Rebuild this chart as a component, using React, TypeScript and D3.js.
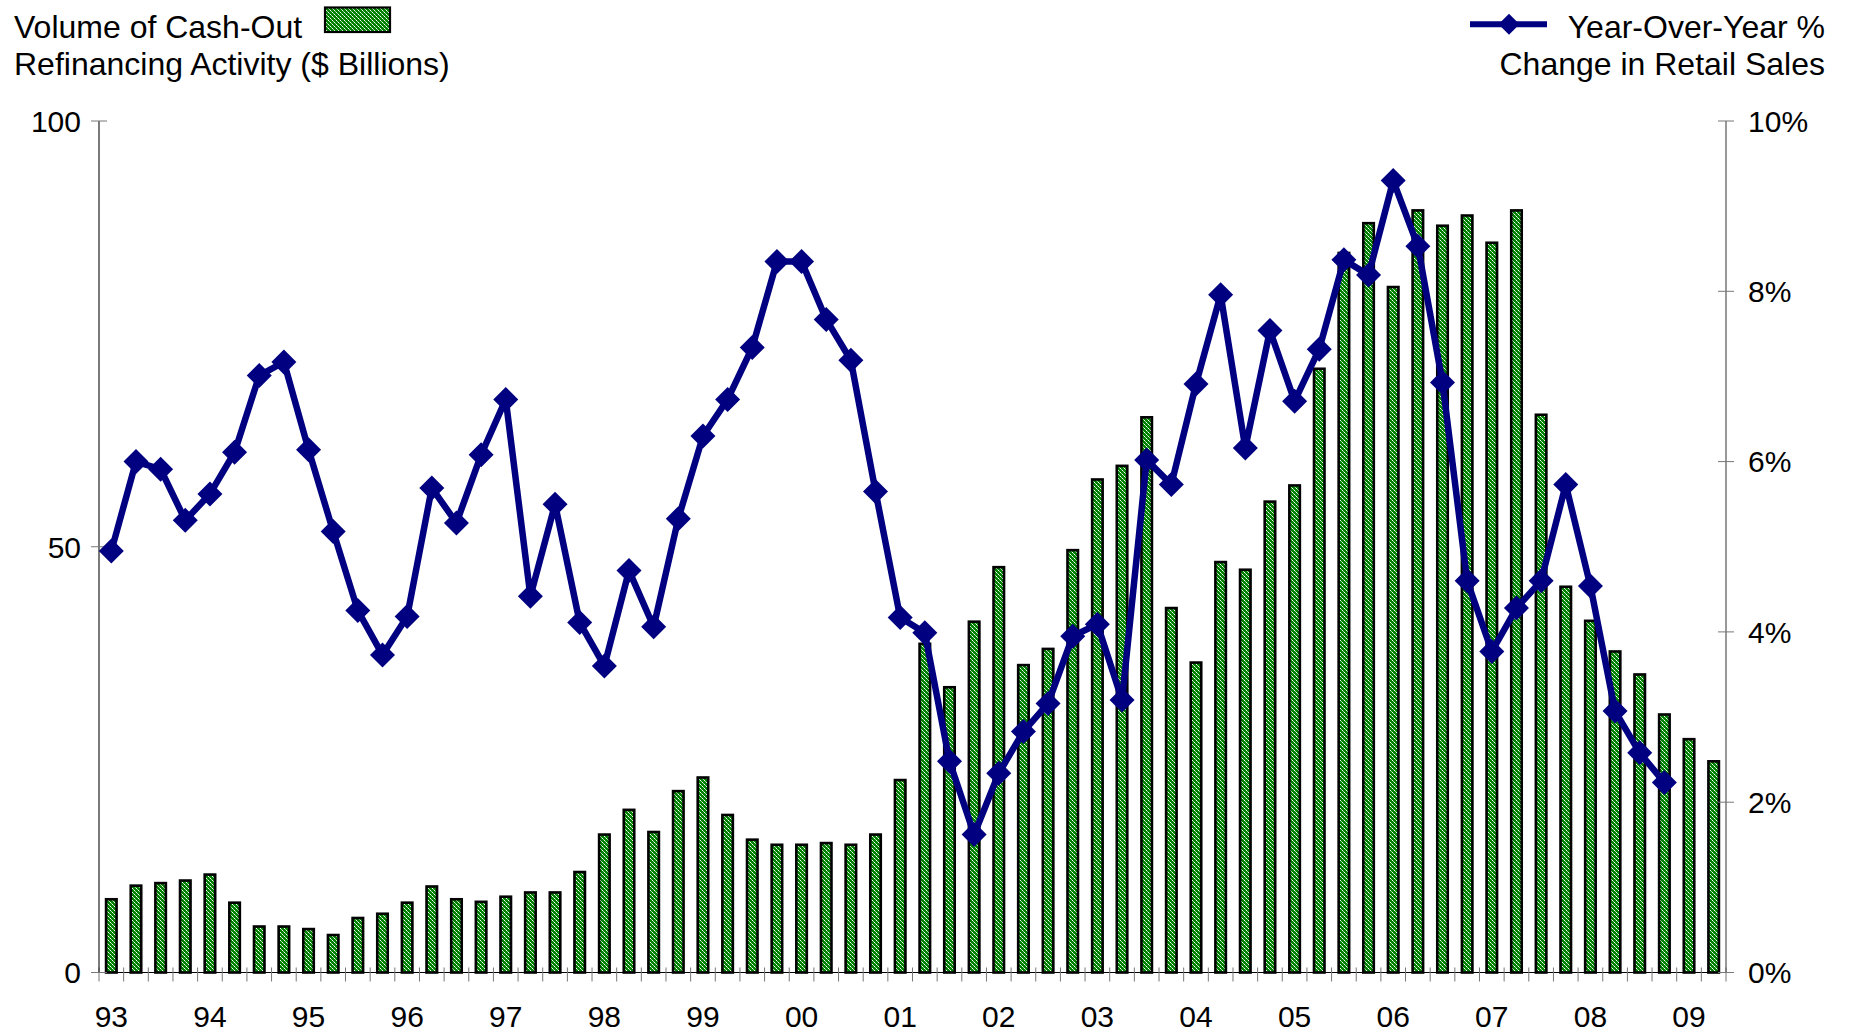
import React from 'react';
import * as d3 from 'd3';

// Quarterly categories 93Q1 .. 09Q2
const years = ['93', '94', '95', '96', '97', '98', '99', '00', '01', '02', '03', '04', '05', '06', '07', '08', '09'];
const quarterNames = ['Q1', 'Q2', 'Q3', 'Q4'];
const quarters = years.flatMap((y) => quarterNames.map((q) => y + q)).slice(0, 66);

// Volume of cash-out refinancing ($ billions), one per quarter
const cashOut = [
  8.6, 10.2, 10.5, 10.8, 11.5, 8.2, 5.4, 5.4,
  5.1, 4.4, 6.4, 6.9, 8.2, 10.1, 8.6, 8.3,
  8.9, 9.4, 9.4, 11.8, 16.2, 19.1, 16.5, 21.3,
  22.9, 18.5, 15.6, 15.0, 15.0, 15.2, 15.0, 16.2,
  22.6, 38.6, 33.5, 41.2, 47.6, 36.1, 38.0, 49.6,
  57.9, 59.5, 65.2, 42.8, 36.4, 48.2, 47.3, 55.3,
  57.2, 70.9, 84.5, 88.0, 80.5, 89.5, 87.7, 88.9,
  85.7, 89.5, 65.5, 45.3, 41.3, 37.7, 35.0, 30.3,
  27.4, 24.8,
];

// Year-over-year % change in retail sales, 93Q1 .. 08Q4
const retailYoY = [
  4.95, 6.0, 5.91, 5.31, 5.62, 6.11, 7.01, 7.17,
  6.14, 5.18, 4.25, 3.73, 4.18, 5.69, 5.28, 6.08,
  6.73, 4.42, 5.5, 4.11, 3.6, 4.72, 4.06, 5.33,
  6.3, 6.73, 7.34, 8.35, 8.35, 7.67, 7.19, 5.65,
  4.17, 3.99, 2.48, 1.62, 2.34, 2.83, 3.16, 3.95,
  4.09, 3.2, 6.02, 5.73, 6.91, 7.96, 6.16, 7.54,
  6.71, 7.32, 8.37, 8.19, 9.3, 8.53, 6.93, 4.6,
  3.77, 4.28, 4.6, 5.73, 4.54, 3.07, 2.58, 2.23,
];

const leftTicks = [0, 50, 100];
const rightTicks = [0, 2, 4, 6, 8, 10];

const W = 1850;
const H = 1034;
const plot = { left: 99, right: 1726, top: 121, bottom: 972.5 };
const FONT = '"Liberation Sans", Arial, Helvetica, sans-serif';
const NAVY = '#000080';

const diamond = (cx: number, cy: number, r: number) =>
  `M${cx},${cy - r}L${cx + r},${cy}L${cx},${cy + r}L${cx - r},${cy}Z`;

const App = () => {
  const x = d3.scaleBand<string>().domain(quarters).range([plot.left, plot.right]).padding(0);
  const yL = d3.scaleLinear().domain([0, 100]).range([plot.bottom, plot.top]);
  const yR = d3.scaleLinear().domain([0, 10]).range([plot.bottom, plot.top]);
  const bw = x.bandwidth();
  const barW = 10.5;

  const pts = retailYoY.map((v, i) => [x(quarters[i])! + bw / 2, yR(v)] as [number, number]);
  const linePath = d3.line()(pts) || '';

  const boundaries = d3.range(quarters.length + 1).map((i) => plot.left + i * bw);

  return (
    <svg
      width={W}
      height={H}
      style={{ position: 'absolute', left: 0, top: 0, background: '#fff' }}
      fontFamily={FONT}
    >
      <defs>
        <pattern id="dots" width="4" height="4" patternUnits="userSpaceOnUse">
          <rect width="4" height="4" fill="#008000" />
          <rect x="0" y="0" width="1" height="1" fill="#ffffff" />
          <rect x="2" y="2" width="1" height="1" fill="#ffffff" />
          <rect x="1" y="1" width="1" height="1" fill="#9ad89a" />
          <rect x="3" y="3" width="1" height="1" fill="#9ad89a" />
        </pattern>
      </defs>

      {/* bars */}
      {cashOut.map((v, i) => (
        <rect
          key={i}
          x={x(quarters[i])! + (bw - barW) / 2}
          y={yL(v)}
          width={barW}
          height={yL(0) - yL(v)}
          fill="url(#dots)"
          stroke="#000"
          strokeWidth={2.6}
        />
      ))}

      {/* x axis */}
      <line x1={plot.left} x2={plot.right} y1={plot.bottom} y2={plot.bottom} stroke="#000" strokeWidth={1.2} />
      {boundaries.map((bx, i) => (
        <line key={i} x1={bx} x2={bx} y1={plot.bottom - 5} y2={plot.bottom + 9} stroke="#777" strokeWidth={1} />
      ))}
      {years.map((yr) => (
        <text
          key={yr}
          x={x(yr + 'Q1')! + bw / 2}
          y={1027}
          textAnchor="middle"
          fontSize={30}
          fill="#000"
        >
          {yr}
        </text>
      ))}

      {/* left axis */}
      <line x1={plot.left} x2={plot.left} y1={plot.top} y2={plot.bottom} stroke="#222" strokeWidth={1.2} />
      {leftTicks.map((t) => (
        <g key={t}>
          <line x1={plot.left - 8} x2={plot.left + 8} y1={yL(t)} y2={yL(t)} stroke="#777" strokeWidth={1} />
          <text x={81} y={yL(t)} dy="0.36em" textAnchor="end" fontSize={30} fill="#000">
            {t}
          </text>
        </g>
      ))}

      {/* right axis */}
      <line x1={plot.right} x2={plot.right} y1={plot.top} y2={plot.bottom} stroke="#555" strokeWidth={1.2} />
      {rightTicks.map((t) => (
        <g key={t}>
          <line x1={plot.right - 8} x2={plot.right + 8} y1={yR(t)} y2={yR(t)} stroke="#777" strokeWidth={1} />
          <text x={1748} y={yR(t)} dy="0.36em" textAnchor="start" fontSize={30} fill="#000">
            {t}%
          </text>
        </g>
      ))}

      {/* line series */}
      <path d={linePath} fill="none" stroke={NAVY} strokeWidth={6.5} strokeLinejoin="round" />
      {pts.map(([px, py], i) => (
        <path key={i} d={diamond(px, py, 12.5)} fill={NAVY} />
      ))}

      {/* left legend */}
      <text x={14} y={38} fontSize={32} fill="#000">Volume of Cash-Out</text>
      <text x={14} y={75} fontSize={32} fill="#000">Refinancing Activity ($ Billions)</text>
      <rect x={325} y={7.5} width={65} height={24.5} fill="url(#dots)" stroke="#000" strokeWidth={2.2} />

      {/* right legend */}
      <line x1={1470} x2={1547} y1={24.3} y2={24.3} stroke={NAVY} strokeWidth={6} />
      <path d={diamond(1509, 24.3, 10.5)} fill={NAVY} />
      <text x={1825} y={38} textAnchor="end" fontSize={32} fill="#000">Year-Over-Year %</text>
      <text x={1825} y={75} textAnchor="end" fontSize={32} fill="#000">Change in Retail Sales</text>
    </svg>
  );
};

export default App;
